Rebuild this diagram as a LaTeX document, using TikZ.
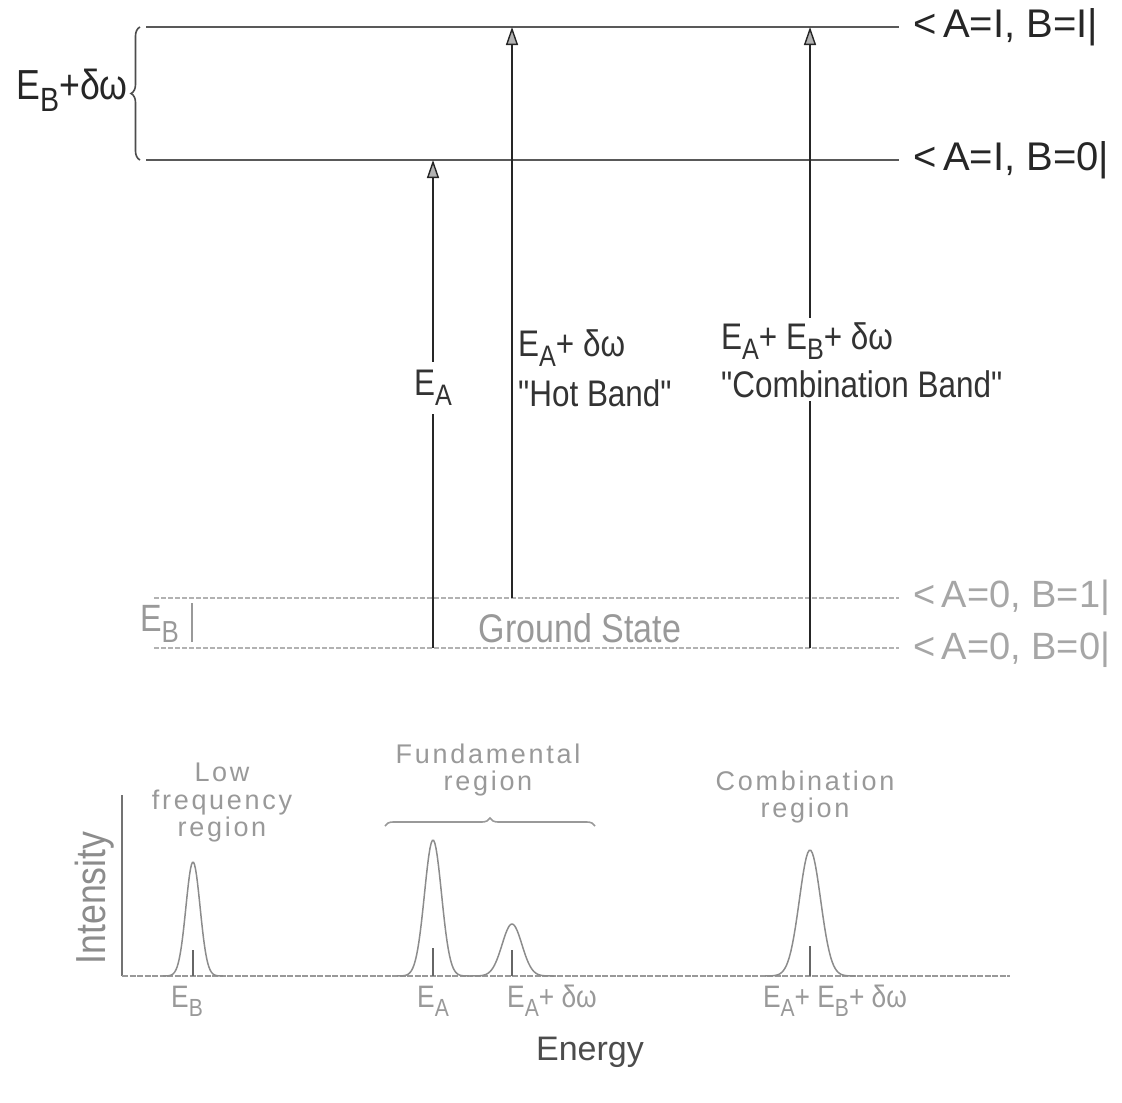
\documentclass[tikz,border=0pt]{standalone}
\usepackage{fontspec}
\setmainfont{Liberation Sans}
\newfontfamily\lett[FakeStretch=0.85]{Liberation Sans}
\newfontfamily\wlett[LetterSpace=10]{Liberation Sans}
\usetikzlibrary{arrows.meta,decorations.pathreplacing}
\newcommand\lsub[1]{\raisebox{-0.28em}{\scalebox{0.8}{#1}}}
\begin{document}
\begin{tikzpicture}[x=1pt,y=-1pt,
  level/.style={line width=2.6pt, black!65},
  glevel/.style={line width=1.6pt, black!30, dash pattern=on 5pt off 2pt},
  trans/.style={line width=2pt, black!85, -{Triangle[length=18pt,width=12pt,fill=black!30,line width=1.4pt]}},
  toplab/.style={font=\fontsize{40}{44}\selectfont, text=black!85, inner sep=0pt, anchor=west},
  glab/.style={font=\fontsize{38}{42}\selectfont, text=black!35, inner sep=0pt, anchor=west},
  mlab/.style={font=\lett\fontsize{37}{44}\selectfont, text=black!80, inner sep=1pt, align=left},
  slab/.style={font=\lett\fontsize{31}{27}\selectfont, text=black!40, inner sep=0pt, align=center},
  rlab/.style={font=\wlett\fontsize{27}{27.5}\selectfont, text=black!40, inner sep=0pt, align=center},
  peak/.style={line width=1.5pt, black!45},
  tick/.style={line width=2pt, black!60},
  bracestyle/.style={decorate, line width=1.6pt},
]
\useasboundingbox (0,0) rectangle (1122,1103);

% ---------- excited levels
\coordinate (L11w) at (146,27);  \coordinate (L11e) at (899,27);
\coordinate (L10w) at (146,160); \coordinate (L10e) at (899,160);
\draw[level] (L11w) -- (L11e);
\draw[level] (L10w) -- (L10e);
\node[toplab] (l11) at (913,27) {<\,A=I, B=I|};
\node[toplab] (l10) at (913,160) {<\,A=I, B=0|};

\draw[bracestyle, black!70, decoration={brace, amplitude=9pt}] (140,160) -- (140,27);
\node[font=\lett\fontsize{42}{46}\selectfont, text=black!85, anchor=east, inner sep=0pt] (ebdw) at (128,90) {E\lsub{B}+δω};

% ---------- ground levels
\coordinate (G1w) at (154,598); \coordinate (G1e) at (899,598);
\coordinate (G0w) at (154,648); \coordinate (G0e) at (899,648);
\draw[glevel] (G1w) -- (G1e);
\draw[glevel] (G0w) -- (G0e);
\node[glab] (g1) at (913,598) {<\,A=0, B=1|};
\node[glab] (g0) at (913,650) {<\,A=0, B=0|};
\node[font=\lett\fontsize{38}{42}\selectfont, text=black!40, anchor=west, inner sep=0pt] (ebg) at (140,624) {E\lsub{B}};
\draw[line width=1.5pt, black!40] (192,603) -- (192,642);

% ---------- transitions
\coordinate (aA0) at (433,648); \coordinate (aA1) at (433,160);
\coordinate (aH0) at (512,598); \coordinate (aH1) at (512,27);
\coordinate (aC0) at (810,648); \coordinate (aC1) at (810,27);
\draw[trans] (aA0) -- (aA1);
\draw[trans] (aH0) -- (aH1);
\draw[trans] (aC0) -- (aC1);

\node[mlab, fill=white, inner ysep=8pt] (labA) at (433,388) {E\lsub{A}};
\node[mlab, anchor=north west] (labH) at (517,328) {E\lsub{A}+ δω\\[6pt]"Hot Band"};
\node[mlab, anchor=north west, fill=white, inner ysep=4pt] (labC) at (720,318) {E\lsub{A}+ E\lsub{B}+ δω\\[4pt]"Combination Band"};
\node[font=\lett\fontsize{40}{44}\selectfont, text=black!40, inner sep=0pt] (gs) at (580,628) {Ground State};

% ---------- spectrum
\coordinate (ax0) at (122,976); \coordinate (axT) at (122,795); \coordinate (axR) at (1010,976);
\draw[line width=1.8pt, black!55] (ax0) -- (axT);
\draw[line width=1.6pt, black!40, dash pattern=on 6pt off 1.5pt] (ax0) -- (axR);

\draw[peak] plot[domain=163:223, samples=60] (\x,{976-114*exp(-((\x-193)/10)^2)});
\draw[peak] plot[domain=397:469, samples=60] (\x,{976-136*exp(-((\x-433)/12)^2)});
\draw[peak] plot[domain=470:554, samples=60] (\x,{976-52*exp(-((\x-512)/14)^2)});
\draw[peak] plot[domain=765:855, samples=60] (\x,{976-126*exp(-((\x-810)/15)^2)});

\draw[tick] (193,976) -- (193,950);
\draw[tick] (433,976) -- (433,948);
\draw[tick] (512,976) -- (512,950);
\draw[tick] (810,976) -- (810,946);

\node[rlab] (lowreg) at (222,803) {Low\\frequency\\region};
\node[rlab] (fundreg) at (488,770) {Fundamental\\region};
\draw[bracestyle, black!40, decoration={brace, amplitude=8pt}] (385,826) -- (595,826);
\node[rlab] (combreg) at (805,797) {Combination\\region};

\node[slab] (xEB) at (187,1001) {E\lsub{B}};
\node[slab] (xEA) at (433,1001) {E\lsub{A}};
\node[slab] (xEAd) at (552,1001) {E\lsub{A}+ δω};
\node[slab] (xEC) at (835,1001) {E\lsub{A}+ E\lsub{B}+ δω};

\node[font=\fontsize{34}{38}\selectfont, text=black!70, inner sep=0pt] (energy) at (590,1052) {Energy};
\node[font=\lett\fontsize{42}{44}\selectfont, text=black!45, rotate=90, inner sep=0pt] (inten) at (95,898) {Intensity};
\end{tikzpicture}
\end{document}
